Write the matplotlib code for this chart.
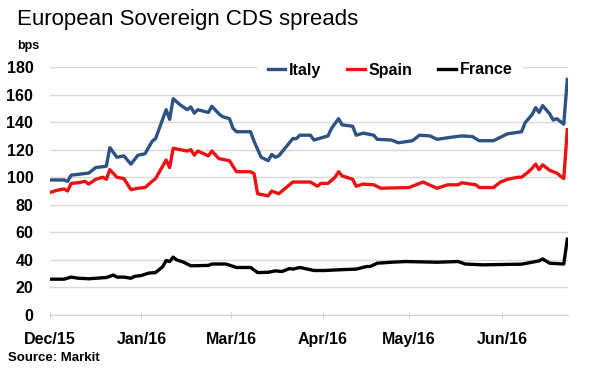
import matplotlib.pyplot as plt

plt.rcParams['font.family'] = ['Liberation Sans', 'DejaVu Sans']

# trading-day index from start of Dec 2015, spread in bps
italy_x = [0, 4, 5, 6, 11, 13, 16, 17, 19, 21, 23, 25, 27, 29, 30, 33, 34, 35, 37, 39,
           40, 41, 42, 45, 46, 48, 49, 51, 52, 53, 57, 58, 60, 62, 63, 64, 65, 69, 70, 71,
           74, 75, 79, 80, 82, 83, 86, 87, 89, 92, 93, 97, 99, 103, 105, 108, 110, 114, 117, 120,
           122, 126, 128, 130, 134, 135, 137, 138, 139, 140, 142, 143, 144, 146, 147]
italy_y = [98, 98, 97, 101.5, 103, 107, 108, 121.5, 114.5, 115.5, 109.5, 116, 117, 126, 128, 149, 142, 157, 152.5, 149,
           151, 146.5, 149, 147, 151.5, 146, 144, 142.5, 135.5, 133, 133, 126, 114.5, 112, 116.5, 114.5, 115.5, 128, 128, 130.5,
           130.5, 127, 130, 135.5, 142.5, 138, 137, 130.5, 132, 130.5, 127.5, 127, 125, 126.5, 130.5, 130, 127.5, 129, 130, 129.5,
           126.5, 126.5, 129, 131.5, 133, 139.5, 145.5, 150.5, 147, 152, 146, 141.5, 142.5, 138.5, 171]

spain_x = [0, 2, 4, 5, 6, 8, 10, 11, 13, 15, 16, 17, 19, 21, 23, 25, 27, 29, 30, 33,
           34, 35, 37, 39, 40, 41, 42, 45, 46, 48, 51, 53, 57, 58, 59, 62, 63, 65, 69, 74,
           76, 77, 79, 81, 82, 83, 86, 87, 89, 92, 94, 102, 106, 110, 113, 116, 117, 121, 122, 126,
           128, 130, 133, 134, 136, 137, 138, 139, 140, 142, 144, 146, 147]
spain_y = [89, 90.5, 91.5, 90, 95.5, 96, 97, 95, 98.5, 100, 98.5, 105.5, 100, 99, 91, 92, 92.5, 97, 99, 112.5,
           107, 121, 120, 119, 120, 116, 119, 115.5, 119, 113.5, 112, 104, 104, 102.5, 88, 86.5, 90, 88, 96.5, 96.5,
           93.5, 95.5, 95.5, 100, 104, 101, 98.5, 93.5, 95, 94.5, 92, 92.5, 96.5, 92, 94.5, 94.5, 96, 94.5, 92.5, 92.5,
           96.5, 98.5, 100, 100, 104, 106.5, 109.5, 105.5, 109, 105, 103, 99, 134.5]

france_x = [0, 4, 6, 8, 11, 16, 18, 19, 21, 23, 24, 26, 28, 30, 32, 33, 34, 35, 36, 38,
            40, 45, 46, 50, 53, 57, 59, 62, 64, 66, 68, 69, 71, 75, 78, 82, 87, 90, 91, 92,
            93, 97, 101, 110, 116, 118, 123, 134, 137, 139, 140, 142, 146, 147]
france_y = [26, 26, 27.5, 26.7, 26.3, 27.2, 29, 27.5, 27.5, 26.7, 28, 28.7, 30.4, 30.8, 35, 39.5, 38.8, 42, 40, 38.3,
            35.7, 36, 37, 37, 34.5, 34.5, 30.8, 31, 32, 31.6, 33.7, 33.3, 34.5, 32.3, 32.3, 32.8, 33.3, 35.2, 35.2, 36.4,
            37.6, 38.3, 38.8, 38.3, 38.8, 37, 36.4, 36.9, 38.3, 39.3, 40.7, 37.6, 37, 55]

tick_pos = [0, 26, 51.5, 77.5, 102, 128.5]
tick_labels = ["Dec/15", "Jan/16", "Mar/16", "Apr/16", "May/16", "Jun/16"]

fig = plt.figure(figsize=(5.9, 3.82), dpi=100)
ax = fig.add_axes([50/590, 1 - 315/382, 518/590, 248/382])

ax.plot(italy_x, italy_y, color="#2e5283", lw=2.4, label="Italy")
ax.plot(spain_x, spain_y, color="#ee1111", lw=2.4, label="Spain")
ax.plot(france_x, france_y, color="black", lw=2.4, label="France")

ax.set_xlim(0, 147.2)
ax.set_ylim(0, 180)
ax.set_yticks(range(0, 181, 20))
ax.set_xticks(tick_pos)
ax.set_xticklabels(tick_labels)
ax.grid(axis="y", color="#d9d9d9", lw=1)
ax.set_axisbelow(True)
for s in ["top", "right", "left"]:
    ax.spines[s].set_visible(False)
ax.spines["bottom"].set_color("#d0d0d0")
ax.tick_params(axis="y", length=0, pad=12, labelsize=11.5)
ax.tick_params(axis="x", direction="inout", length=5, color="#d0d0d0", pad=10, labelsize=11.5)
for lab in ax.get_xticklabels() + ax.get_yticklabels():
    lab.set_fontweight("bold")

leg = fig.legend(loc="center", bbox_to_anchor=(390/590, 1 - 70/382), ncol=3,
                 frameon=True, fancybox=False, edgecolor="white", framealpha=1,
                 handlelength=1.1, handletextpad=0.25, columnspacing=1.6,
                 prop={"weight": "bold", "size": 11.5}, borderpad=0.6)

fig.text(17/590, 1 - 19/382, "European Sovereign CDS spreads", fontsize=16, va="center", ha="left")
fig.text(17/590, 1 - 46/382, "bps", fontsize=9, fontweight="bold", va="center", ha="left")
fig.text(8/590, 1 - 358/382, "Source: Markit", fontsize=9.5, fontweight="bold", va="center", ha="left")

plt.savefig("out.png", dpi=100)
